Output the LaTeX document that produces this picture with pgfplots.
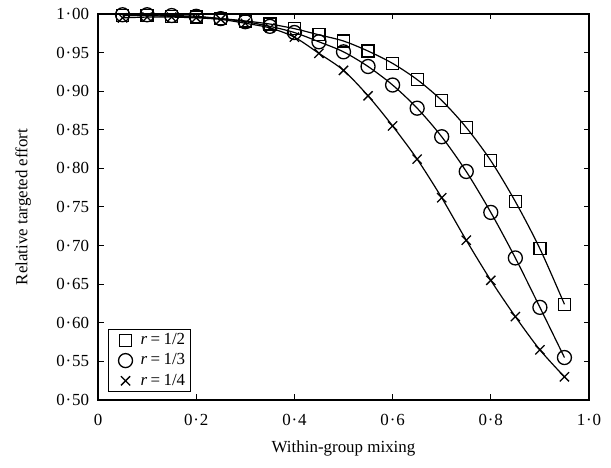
\documentclass[border=0pt]{standalone}
\usepackage{fontspec}
\setmainfont{Liberation Serif}
\usepackage{pgfplots}
\pgfplotsset{compat=1.18}

\newcommand{\md}{\kern0.05em·\kern0.05em}

\begin{document}
\fontsize{17}{20}\selectfont
\begin{tikzpicture}
\useasboundingbox (0,0) rectangle (611bp,468bp);
\begin{axis}[
    at={(98bp,68bp)}, anchor=south west,
    scale only axis,
    width=491bp, height=386bp,
    xmin=0, xmax=1, ymin=0.5, ymax=1,
    xtick={0,0.2,0.4,0.6,0.8,1.0},
    xticklabels={0,0\md2,0\md4,0\md6,0\md8,1\md0},
    ytick={0.5,0.55,0.6,0.65,0.7,0.75,0.8,0.85,0.9,0.95,1.0},
    yticklabels={0\md50,0\md55,0\md60,0\md65,0\md70,0\md75,0\md80,0\md85,0\md90,0\md95,1\md00},
    axis line style={line width=1.5bp},
    major tick length=5.5bp,
    every tick/.style={black, line width=1bp},
    tick label style={font=\fontsize{17}{20}\selectfont},
    xticklabel style={yshift=-8bp},
    yticklabel style={xshift=-3bp},
    label style={font=\fontsize{17}{20}\selectfont},
    xlabel={Within-group mixing},
    xlabel style={yshift=-4bp},
    ylabel={Relative targeted effort},
    ylabel style={yshift=14bp},
    legend style={at={(0.02,0.02)}, anchor=south west, draw=black, line width=1.2bp,
        font=\fontsize{17}{20}\selectfont, inner xsep=3bp, inner ysep=2bp, row sep=2.5bp,
        column sep=2bp},
    legend cell align=left,
    legend image code/.code={\path (0,0) (24bp,0);
        \draw[#1] plot coordinates {(13.5bp,0cm)};},
    every axis plot/.append style={black, line width=1.2bp, smooth},
]

\addplot[mark=square, mark size=6bp, mark options={solid, line width=1.3bp}] coordinates {
(0.05,0.998) (0.10,0.998) (0.15,0.997) (0.20,0.996) (0.25,0.994) (0.30,0.991)
(0.35,0.987) (0.40,0.981) (0.45,0.973) (0.50,0.965) (0.55,0.952) (0.60,0.936)
(0.65,0.915) (0.70,0.888) (0.75,0.853) (0.80,0.810) (0.85,0.757) (0.90,0.696)
(0.95,0.624)
};
\addlegendentry{\textit{r}\kern0.2em=\kern0.2em1/2}

\addplot[mark=o, mark size=7bp, mark options={solid, line width=1.3bp}] coordinates {
(0.05,0.999) (0.10,0.999) (0.15,0.998) (0.20,0.997) (0.25,0.994) (0.30,0.990)
(0.35,0.984) (0.40,0.976) (0.45,0.964) (0.50,0.951) (0.55,0.932) (0.60,0.908)
(0.65,0.878) (0.70,0.841) (0.75,0.796) (0.80,0.743) (0.85,0.684) (0.90,0.620)
(0.95,0.555)
};
\addlegendentry{\textit{r}\kern0.2em=\kern0.2em1/3}

\addplot[mark=x, mark size=6.5bp, mark options={solid, line width=1.3bp}] coordinates {
(0.05,0.995) (0.10,0.996) (0.15,0.996) (0.20,0.995) (0.25,0.993) (0.30,0.988)
(0.35,0.982) (0.40,0.970) (0.45,0.949) (0.50,0.927) (0.55,0.894) (0.60,0.855)
(0.65,0.812) (0.70,0.762) (0.75,0.707) (0.80,0.655) (0.85,0.608) (0.90,0.565)
(0.95,0.530)
};
\addlegendentry{\textit{r}\kern0.2em=\kern0.2em1/4}

\end{axis}
\end{tikzpicture}
\end{document}
